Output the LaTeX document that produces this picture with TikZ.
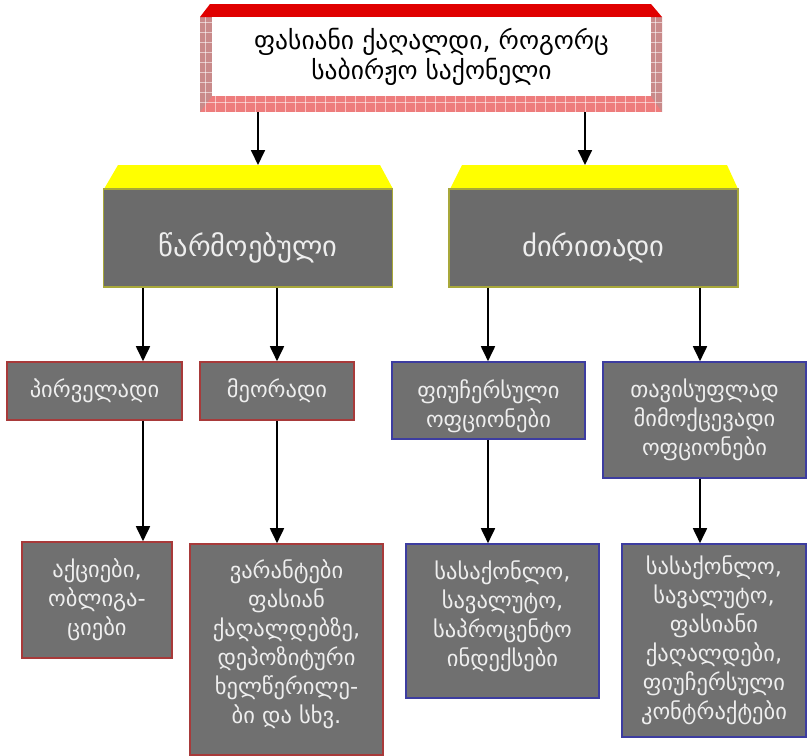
\documentclass[tikz,border=0pt]{standalone}
\usepackage{fontspec}
\setmainfont{DejaVu Sans}
\newfontfamily\geofont[Script=Georgian]{DejaVu Sans}
\usetikzlibrary{arrows.meta}
\definecolor{boxgray}{HTML}{707070}
\definecolor{lvltwogray}{HTML}{6B6B6B}
\definecolor{txtlight}{HTML}{EEEEEE}
\definecolor{olivebd}{HTML}{A8A83A}
\definecolor{redbd}{HTML}{A83A3A}
\definecolor{bluebd}{HTML}{3D3DA0}
\definecolor{capred}{HTML}{E00000}
\definecolor{framepink}{HTML}{EE7C7C}
\definecolor{sidepink}{HTML}{C98A8A}
\definecolor{capyellow}{HTML}{FFFF00}
\tikzset{
  arr/.style={line width=1.8pt, -{Triangle[length=15pt,width=14pt]}},
  lvltwo/.style={draw=olivebd, line width=1.6pt, fill=lvltwogray, inner sep=0pt},
  lvltwolabel/.style={text=txtlight, font=\geofont\fontsize{28.5}{30}\selectfont, yshift=-10pt},
  redbox/.style={draw=redbd, line width=1.6pt, fill=boxgray, text=txtlight, align=center,
    font=\geofont\fontsize{22.5}{29}\selectfont, inner sep=0pt},
  bluebox/.style={redbox, draw=bluebd},
  toptext/.style={align=center, text=black, font=\geofont\fontsize{25.5}{30}\selectfont}
}
\begin{document}
\begin{tikzpicture}[x=1pt,y=-1pt]
\useasboundingbox (0,0) rectangle (807,756);

% ---- top frame ----
\fill[framepink] (200,17) rectangle (662,112);
\fill[sidepink] (200,17) -- (212,17) -- (212,96) -- (200,112) -- cycle;
\fill[sidepink] (651,17) -- (662,17) -- (662,112) -- (651,96) -- cycle;
\begin{scope}
  \clip (200,17) rectangle (662,112);
  \foreach \gx in {205,215,...,660} \draw[white, opacity=0.55, line width=0.7pt] (\gx,17) -- (\gx,112);
  \foreach \gy in {22,32,...,110} \draw[white, opacity=0.55, line width=0.7pt] (200,\gy) -- (662,\gy);
\end{scope}
\fill[capred] (210,4) -- (651,4) -- (662,17) -- (200,17) -- cycle;
\node[fill=white, minimum width=439pt, minimum height=79pt, inner sep=0pt] (top) at (431.5,56.5) {};
\node[toptext] (toplabel) at (top.center) {ფასიანი ქაღალდი, როგორც\\საბირჟო საქონელი};
\coordinate (frameL) at (258,112);
\coordinate (frameR) at (585,112);

% ---- second level ----
\fill[capyellow] (118,165) -- (380,165) -- (393,189) -- (104,189) -- cycle;
\fill[capyellow] (462,165) -- (727,165) -- (738,189) -- (450,189) -- cycle;
\coordinate (capA) at (258,165);
\coordinate (capB) at (585,165);
\node[lvltwo, minimum width=289pt, minimum height=98pt,
  label={[lvltwolabel]center:წარმოებული}] (A) at (248,238) {};
\node[lvltwo, minimum width=289pt, minimum height=98pt,
  label={[lvltwolabel]center:ძირითადი}] (B) at (593.5,238) {};

% ---- third level ----
\node[redbox, minimum width=175pt, minimum height=58pt] (P) at (94.5,391) {პირველადი};
\node[redbox, minimum width=154pt, minimum height=58pt] (M) at (277,391) {მეორადი};
\node[bluebox, minimum width=193pt, minimum height=77pt] (F) at (488.5,400.5) {ფიუჩერსული\\ოფციონები\\[-36pt]};
\node[bluebox, minimum width=203pt, minimum height=116pt] (T) at (704.5,420) {თავისუფლად\\მიმოქცევადი\\ოფციონები};

% ---- fourth level ----
\node[redbox, minimum width=150pt, minimum height=116pt] (Q) at (97,600) {აქციები,\\ობლიგა-\\ციები};
\node[redbox, minimum width=193pt, minimum height=211pt] (W) at (286.5,649.5) {ვარანტები\\ფასიან\\ქაღალდებზე,\\დეპოზიტური\\ხელწერილე-\\ბი და სხვ.\\[-14pt]};
\node[bluebox, minimum width=193pt, minimum height=154pt] (S) at (502.5,621) {სასაქონლო,\\სავალუტო,\\საპროცენტო\\ინდექსები\\[-14pt]};
\node[bluebox, minimum width=184pt, minimum height=193pt] (U) at (714,640.5) {სასაქონლო,\\სავალუტო,\\ფასიანი\\ქაღალდები,\\ფიუჩერსული\\კონტრაქტები};

% ---- connectors ----
\draw[arr] (frameL) -- (capA);
\draw[arr] (frameR) -- (capB);
\draw[arr] (A.south -| 143,0) -- (P.north -| 143,0);
\draw[arr] (A.south -| 277,0) -- (M.north);
\draw[arr] (B.south -| 488,0) -- (F.north -| 488,0);
\draw[arr] (B.south -| 700,0) -- (T.north -| 700,0);
\draw[arr] (P.south -| 143,0) -- (Q.north -| 143,0);
\draw[arr] (M.south) -- (W.north -| 277,0);
\draw[arr] (F.south -| 488,0) -- (S.north -| 488,0);
\draw[arr] (T.south -| 700,0) -- (U.north -| 700,0);
\end{tikzpicture}
\end{document}
